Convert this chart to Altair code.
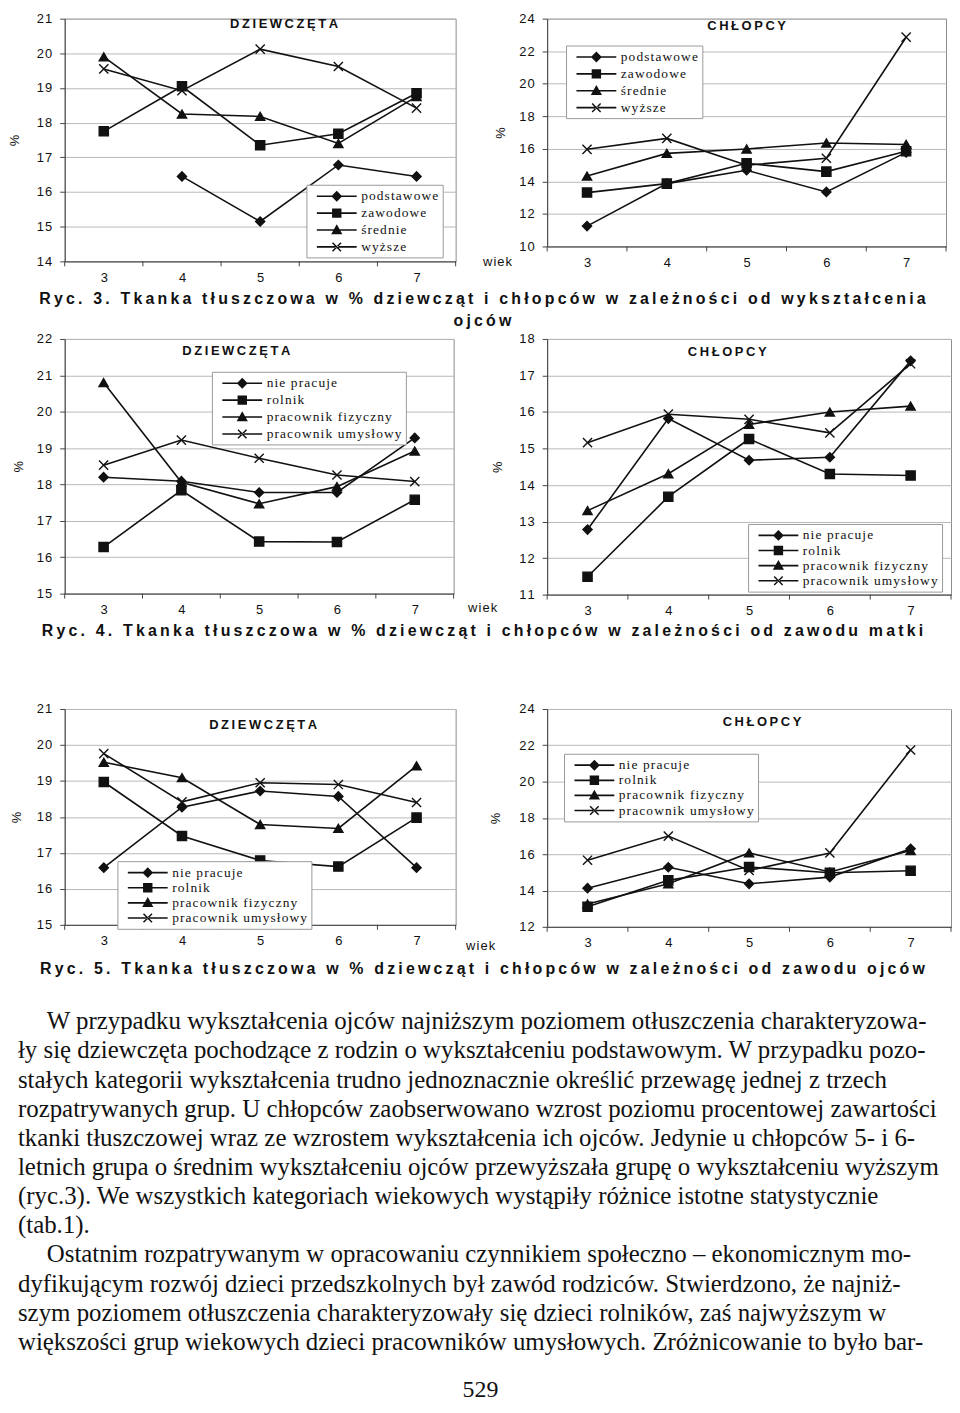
import altair as alt
import pandas as pd

# ---------------- data ----------------
AGES = [3, 4, 5, 6, 7]
EDU = ["podstawowe", "zawodowe", "średnie", "wyższe"]
JOB = ["nie pracuje", "rolnik", "pracownik fizyczny", "pracownik umysłowy"]

# Ryc. 3 - father's education
R3_GIRLS_PODSTAWOWE = [None, 16.45, 15.15, 16.78, 16.45]
R3_GIRLS_ZAWODOWE = [17.75, 19.05, 17.35, 17.68, 18.85]
R3_GIRLS_SREDNIE = [19.9, 18.25, 18.18, 17.4, 18.75]
R3_GIRLS_WYZSZE = [19.55, 18.92, 20.12, 19.62, 18.42]
R3_BOYS_PODSTAWOWE = [11.25, 13.86, 14.68, 13.35, 15.78]
R3_BOYS_ZAWODOWE = [13.31, 13.86, 15.11, 14.6, 15.85]
R3_BOYS_SREDNIE = [14.33, 15.72, 15.99, 16.36, 16.27]
R3_BOYS_WYZSZE = [15.97, 16.64, 14.99, 15.42, 22.86]

# Ryc. 4 - mother's occupation
R4_GIRLS_NIE = [18.2, 18.09, 17.78, 17.78, 19.28]
R4_GIRLS_ROLNIK = [16.28, 17.84, 16.43, 16.42, 17.58]
R4_GIRLS_FIZ = [20.8, 18.06, 17.47, 17.94, 18.92]
R4_GIRLS_UMYS = [18.53, 19.22, 18.72, 18.26, 18.08]
R4_BOYS_NIE = [12.78, 15.82, 14.68, 14.76, 17.4]
R4_BOYS_ROLNIK = [11.49, 13.68, 15.26, 14.3, 14.26]
R4_BOYS_FIZ = [13.3, 14.31, 15.66, 16.0, 16.16]
R4_BOYS_UMYS = [15.16, 15.94, 15.8, 15.43, 17.32]

# Ryc. 5 - father's occupation
R5_GIRLS_NIE = [16.59, 18.27, 18.72, 18.57, 16.59]
R5_GIRLS_ROLNIK = [18.97, 17.47, 16.79, 16.62, 17.98]
R5_GIRLS_FIZ = [19.52, 19.09, 17.79, 17.68, 19.42]
R5_GIRLS_UMYS = [19.76, 18.42, 18.95, 18.9, 18.4]
R5_BOYS_NIE = [14.13, 15.28, 14.37, 14.74, 16.3]
R5_BOYS_ROLNIK = [13.11, 14.56, 15.3, 14.98, 15.09]
R5_BOYS_FIZ = [13.26, 14.37, 16.07, 15.02, 16.2]
R5_BOYS_UMYS = [15.67, 17.0, 15.11, 16.07, 21.74]

PANEL_TITLES = ["DZIEWCZĘTA", "CHŁOPCY"]
X_TITLE = "wiek"
Y_TITLE = "%"
CAPTION_3 = ["Ryc. 3. Tkanka tłuszczowa w % dziewcząt i chłopców w zależności od wykształcenia", "ojców"]
CAPTION_4 = "Ryc. 4. Tkanka tłuszczowa w % dziewcząt i chłopców w zależności od zawodu matki"
CAPTION_5 = "Ryc. 5. Tkanka tłuszczowa w % dziewcząt i chłopców w zależności od zawodu ojców"
PARAGRAPH_1 = [
    "W przypadku wykształcenia ojców najniższym poziomem otłuszczenia charakteryzowa-",
    "ły się dziewczęta pochodzące z rodzin o wykształceniu podstawowym. W przypadku pozo-",
    "stałych kategorii wykształcenia trudno jednoznacznie określić przewagę jednej z trzech",
    "rozpatrywanych grup. U chłopców zaobserwowano wzrost poziomu procentowej zawartości",
    "tkanki tłuszczowej wraz ze wzrostem wykształcenia ich ojców. Jedynie u chłopców 5- i 6-",
    "letnich grupa o średnim wykształceniu ojców przewyższała grupę o wykształceniu wyższym",
    "(ryc.3). We wszystkich kategoriach wiekowych wystąpiły różnice istotne statystycznie",
    "(tab.1).",
]
PARAGRAPH_2 = [
    "Ostatnim rozpatrywanym w opracowaniu czynnikiem społeczno – ekonomicznym mo-",
    "dyfikującym rozwój dzieci przedszkolnych był zawód rodziców. Stwierdzono, że najniż-",
    "szym poziomem otłuszczenia charakteryzowały się dzieci rolników, zaś najwyższym w",
    "większości grup wiekowych dzieci pracowników umysłowych. Zróżnicowanie to było bar-",
]
PAGE_NUMBER = "529"

# ---------------- style ----------------
FONT = "Liberation Sans"
SERIF = "Liberation Serif"
INK = "#111111"
THIN = "\u2009"
HAIR = "\u200a"
LINE_H = 29.3

MARKERS = ["diamond", "square", "triangle-up", "M-1,-1L1,1M-1,1L1,-1"]
# legend symbols (unit = 7.5 px at symbolSize 225): a thin filled bar + a filled marker
_BAR = "M-2.67,-0.11H2.67V0.11H-2.67Z"
LEGEND_MARKS = [
    _BAR + "M0,-0.73L0.73,0L0,0.73L-0.73,0Z",
    _BAR + "M-0.63,-0.63H0.63V0.63H-0.63Z",
    _BAR + "M0,-0.77L0.75,0.56H-0.75Z",
    _BAR + "M-0.64,-0.5L-0.5,-0.64L0.64,0.5L0.5,0.64Z"
           "M-0.64,0.5L-0.5,0.64L0.64,-0.5L0.5,-0.64Z",
]


def spaced(s, sep=THIN):
    return sep.join(s)


def text_layer(txt, cx, cy, size, weight="bold", font=FONT, align="center",
               baseline="middle", line_height=None):
    kw = dict(align=align, baseline=baseline, font=font, fontSize=size, fontWeight=weight,
              color=INK)
    if line_height is not None:
        kw.update(lineBreak="\n", lineHeight=line_height)
    return alt.Chart(pd.DataFrame({"t": [txt]})).mark_text(**kw).encode(
        text="t:N", x=alt.value(cx), y=alt.value(cy))


def panel(names, series, ydom, ystep, w, h, title, tdx, tdy, leg_opts,
          wiek=None, pct_x=-48):
    lx, ly, rowpad = leg_opts
    rows = []
    for name, vals in zip(names, series):
        for a, v in zip(AGES, vals):
            if v is not None:
                rows.append({"wiek": a, "seria": name, "proc": v})
    df = pd.DataFrame(rows)
    common_x = dict(values=AGES, format="d", grid=False, ticks=False, domainColor="#444",
                    labelFont=FONT, labelFontSize=13, labelColor=INK, labelPadding=10)
    if wiek is not None:
        xaxis = alt.Axis(title=spaced(X_TITLE, HAIR), titleX=wiek[0], titleY=wiek[1],
                         titleAlign="left", titleBaseline="middle", titleFont=FONT,
                         titleFontSize=13, titleFontWeight="normal", titleColor=INK,
                         **common_x)
    else:
        xaxis = alt.Axis(title=None, **common_x)
    x = alt.X("wiek:Q", scale=alt.Scale(domain=[2.5, 7.5], nice=False, zero=False), axis=xaxis)
    yvals = list(range(ydom[0], ydom[1] + 1, ystep))
    y = alt.Y("proc:Q", scale=alt.Scale(domain=ydom, nice=False, zero=False),
              axis=alt.Axis(values=yvals, title=Y_TITLE, titleX=pct_x, titleY=h / 2,
                            titleAngle=270, titleAlign="center", titleBaseline="middle",
                            titleFont=FONT, titleFontSize=13, titleFontWeight="normal",
                            titleColor=INK, grid=True, gridColor="#b8b8b8", gridWidth=1,
                            domainColor="#444", tickColor="#444", tickSize=5, labelPadding=8,
                            labelFont=FONT, labelFontSize=13, labelColor=INK,
                            labelExpr="join(split(datum.label, ''), '" + HAIR + "')"))
    base = alt.Chart(df)
    lines = base.mark_line(color=INK, strokeWidth=1.6).encode(x=x, y=y, detail="seria:N")
    pts = base.mark_point(filled=True, color=INK, stroke=INK, strokeWidth=1.4, size=85,
                          opacity=1).encode(
        x=x, y=y,
        shape=alt.Shape("seria:N", scale=alt.Scale(domain=names, range=MARKERS), legend=None))
    leg = base.mark_point(filled=True, color=INK, opacity=1).encode(
        x=x, y=y,
        shape=alt.Shape("seria:N", scale=alt.Scale(domain=names, range=LEGEND_MARKS),
                        legend=alt.Legend(title=None, orient="none", legendX=lx, legendY=ly,
                                          direction="vertical", symbolSize=225,
                                          symbolFillColor=INK, symbolStrokeWidth=0,
                                          labelFont=SERIF,
                                          labelFontSize=13.5, labelColor=INK, labelLimit=400,
                                          labelExpr="join(split(datum.label, ''), '" + HAIR + "')",
                                          strokeColor="#999", fillColor="white", padding=4,
                                          symbolOffset=19, rowPadding=rowpad, labelOffset=17))
    ).transform_filter("false")
    bnd = pd.DataFrame({"wiek": [a - 0.5 for a in AGES] + [AGES[-1] + 0.5]})
    ticks = alt.Chart(bnd).mark_rule(color="#444", strokeWidth=1).encode(
        x=alt.X("wiek:Q"), y=alt.value(h), y2=alt.value(h + 5))
    ttl = text_layer(spaced(title), w / 2 + tdx, tdy, 13)
    return alt.layer(lines, pts, leg, ticks, ttl).resolve_scale(shape="independent").properties(
        width=w, height=h, view=alt.ViewBackground(stroke="#8c8c8c", strokeWidth=1))


def spacer(w, h, fill=False):
    view = alt.ViewBackground(fill="white", stroke="transparent") if fill else \
        alt.ViewBackground(stroke="transparent")
    return alt.Chart(pd.DataFrame({"s": [0]})).mark_point(opacity=0).encode(
        x=alt.value(0), y=alt.value(0)).properties(width=w, height=h, view=view)


NOVIEW = alt.ViewBackground(stroke="transparent")
CX = 472  # page centre, in chart coordinates

# ---------------- Ryc. 3 ----------------
g3 = panel(EDU, [R3_GIRLS_PODSTAWOWE, R3_GIRLS_ZAWODOWE, R3_GIRLS_SREDNIE, R3_GIRLS_WYZSZE],
           [14, 21], 1, 393, 244, PANEL_TITLES[0], 24, 5, (243, 167, 3),
           wiek=(420, 0), pct_x=-50)
b3 = panel(EDU, [R3_BOYS_PODSTAWOWE, R3_BOYS_ZAWODOWE, R3_BOYS_SREDNIE, R3_BOYS_WYZSZE],
           [10, 24], 2, 401, 229, PANEL_TITLES[1], 0, 7, (19, 27, 3), pct_x=-47)

cap3 = alt.layer(
    text_layer(spaced(CAPTION_3[0]), CX, 38, 16),
    text_layer(spaced(CAPTION_3[1]), CX, 60, 16),
).properties(width=1, height=78, view=NOVIEW)

# ---------------- Ryc. 4 ----------------
g4 = panel(JOB, [R4_GIRLS_NIE, R4_GIRLS_ROLNIK, R4_GIRLS_FIZ, R4_GIRLS_UMYS],
           [15, 22], 1, 391, 256, PANEL_TITLES[0], -23, 12, (148, 33, 3),
           wiek=(405, 14), pct_x=-46)
b4 = panel(JOB, [R4_BOYS_NIE, R4_BOYS_ROLNIK, R4_BOYS_FIZ, R4_BOYS_UMYS],
           [11, 18], 1, 406, 257, PANEL_TITLES[1], -22, 13, (202, 186, 1.2), pct_x=-50)

cap4 = text_layer(spaced(CAPTION_4), CX, 37, 16).properties(width=1, height=115, view=NOVIEW)

# ---------------- Ryc. 5 ----------------
g5 = panel(JOB, [R5_GIRLS_NIE, R5_GIRLS_ROLNIK, R5_GIRLS_FIZ, R5_GIRLS_UMYS],
           [15, 21], 1, 393, 217, PANEL_TITLES[0], 3, 16, (53, 153, 1.2),
           wiek=(403, 21), pct_x=-48)
b5 = panel(JOB, [R5_BOYS_NIE, R5_BOYS_ROLNIK, R5_BOYS_FIZ, R5_BOYS_UMYS],
           [12, 24], 2, 406, 219, PANEL_TITLES[1], 13, 13, (17, 45, 1.2), pct_x=-52)

# ---------------- caption 5 + body text ----------------
BODY_X = 5
INDENT = 29
BODY_Y = 103
p2_y = BODY_Y + len(PARAGRAPH_1) * LINE_H
bottom = alt.layer(
    text_layer(spaced(CAPTION_5), CX, 42, 16),
    text_layer(PARAGRAPH_1[0], BODY_X + INDENT, BODY_Y, 25, weight="normal", font=SERIF,
               align="left", baseline="alphabetic"),
    text_layer("\n".join(PARAGRAPH_1[1:]), BODY_X, BODY_Y + LINE_H, 25, weight="normal",
               font=SERIF, align="left", baseline="alphabetic", line_height=LINE_H),
    text_layer(PARAGRAPH_2[0], BODY_X + INDENT, p2_y, 25, weight="normal", font=SERIF,
               align="left", baseline="alphabetic"),
    text_layer("\n".join(PARAGRAPH_2[1:]), BODY_X, p2_y + LINE_H, 25, weight="normal",
               font=SERIF, align="left", baseline="alphabetic", line_height=LINE_H),
    text_layer(PAGE_NUMBER, CX - 2, 466, 24, weight="normal", font=SERIF),
).properties(width=1, height=463, view=NOVIEW)

cells = [
    spacer(52, 244, True), g3, spacer(92, 244), b3,
    cap3, spacer(1, 1), spacer(1, 1), spacer(1, 1),
    spacer(52, 257, True), g4, spacer(92, 257), b4,
    cap4, spacer(1, 1), spacer(1, 1), spacer(1, 1),
    spacer(52, 219, True), g5, spacer(92, 219), b5,
    bottom, spacer(1, 1), spacer(1, 1), spacer(1, 1),
]

chart = alt.concat(*cells, columns=4, spacing=0, bounds="flush",
                   align={"row": "each", "column": "each"}).properties(
    padding={"left": 0, "top": 0, "right": 0, "bottom": 0}, background="white"
).configure_view(stroke="transparent")

chart.save("out.html", embed_options={"renderer": "svg", "actions": False})
